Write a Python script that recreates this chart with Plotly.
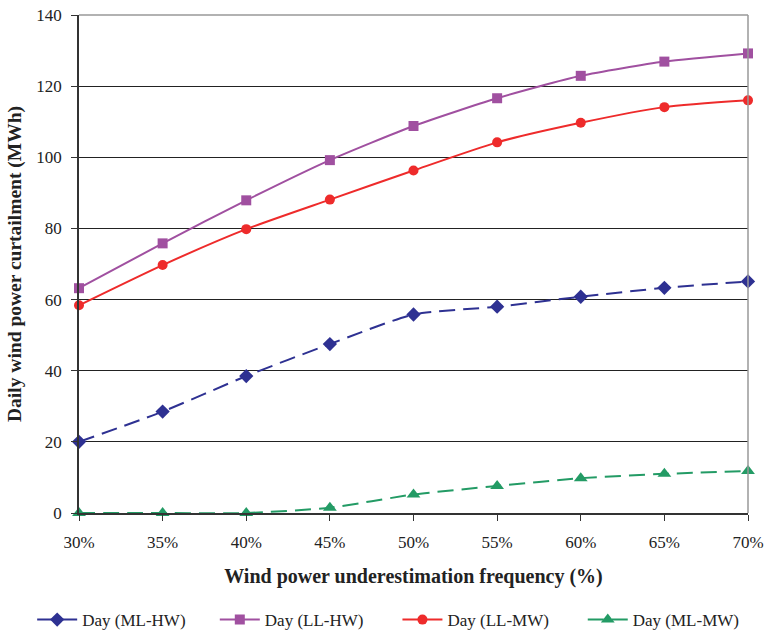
import plotly.graph_objects as go

freq = [30, 35, 40, 45, 50, 55, 60, 65, 70]
freq_labels = ["30%", "35%", "40%", "45%", "50%", "55%", "60%", "65%", "70%"]
ml_hw = [20.0, 28.5, 38.5, 47.5, 55.8, 58.0, 60.8, 63.3, 65.1]
ll_hw = [63.2, 75.8, 87.9, 99.2, 108.8, 116.6, 122.9, 126.9, 129.2]
ll_mw = [58.4, 69.7, 79.8, 88.1, 96.3, 104.2, 109.7, 114.1, 116.0]
ml_mw = [0.0, 0.0, 0.0, 1.5, 5.2, 7.6, 9.8, 11.0, 11.8]
y_ticks = [0, 20, 40, 60, 80, 100, 120, 140]

FONT = "Liberation Serif, Times New Roman, DejaVu Serif, serif"

fig = go.Figure()
series = [
    ("Day (ML-HW)", ml_hw, "#2E3192", "diamond", "16px,8px", 11, "legend", -0.07),
    ("Day (LL-HW)", ll_hw, "#A050A0", "square", "solid", 10, "legend2", 0.203),
    ("Day (LL-MW)", ll_mw, "#EE2B2B", "circle", "solid", 10, "legend3", 0.476),
    ("Day (ML-MW)", ml_mw, "#239B65", "triangle-up", "16px,8px", 12, "legend4", 0.753),
]
legends = {}
for name, ys, col, sym, dash, size, leg, lx in series:
    fig.add_trace(go.Scatter(
        x=freq, y=ys, name=name, mode="lines+markers",
        line=dict(color=col, width=2, dash=dash, shape="spline", smoothing=0.6),
        marker=dict(symbol=sym, size=size, color=col),
        cliponaxis=False, legend=leg,
    ))
    legends[leg] = dict(orientation="h", x=lx, xanchor="left", y=-0.215, yanchor="middle",
                        font=dict(family=FONT, size=17, color="#222"),
                        itemwidth=40, bgcolor="rgba(0,0,0,0)")

fig.update_layout(
    width=767, height=634,
    margin=dict(l=79, r=19, t=15, b=121, autoexpand=False),
    plot_bgcolor="white", paper_bgcolor="white",
    font=dict(family=FONT, size=17, color="#222"),
    showlegend=True,
    **legends,
    xaxis=dict(
        range=[30, 70], tickvals=freq, ticktext=freq_labels,
        showgrid=False, zeroline=False,
        showline=True, linecolor="#333", linewidth=1.5,
        ticks="outside", ticklen=6, tickcolor="#333",
        ticklabelstandoff=7,
        tickfont=dict(family=FONT, size=17),
        title=dict(text="<b>Wind power underestimation frequency (%)</b>",
                   font=dict(family=FONT, size=20), standoff=18),
    ),
    yaxis=dict(
        range=[0, 140], tickvals=y_ticks,
        showgrid=True, gridcolor="#222", gridwidth=1, zeroline=False,
        showline=True, linecolor="#333", linewidth=1.5,
        ticks="outside", ticklen=6, tickcolor="#333",
        ticklabelstandoff=6,
        tickfont=dict(family=FONT, size=17),
        title=dict(text="<b>Daily wind power curtailment (MWh)</b>",
                   font=dict(family=FONT, size=19.5), standoff=10),
    ),
    shapes=[
        dict(type="line", xref="paper", yref="paper", x0=0, x1=1, y0=1, y1=1,
             line=dict(color="#999", width=1.5)),
        dict(type="line", xref="paper", yref="paper", x0=1, x1=1, y0=0, y1=1,
             line=dict(color="#999", width=1.5)),
    ],
)

fig.write_html("out.html")
